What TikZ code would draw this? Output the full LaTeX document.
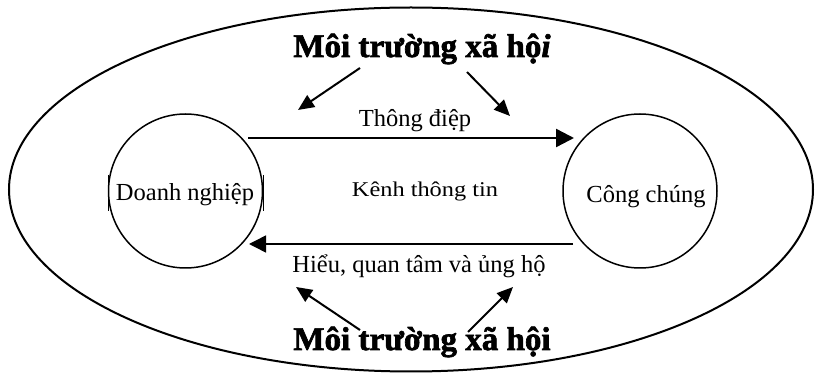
\documentclass[tikz,border=0pt]{standalone}
\usepackage{fontspec}
\setmainfont{Liberation Serif}
\newfontfamily\kenhfont[FakeStretch=1.16]{Liberation Serif}
\newfontfamily\titlefont[FakeBold=2]{Liberation Serif}
\usetikzlibrary{arrows.meta}
\tikzset{
  lbl/.style={font=\fontsize{24.5}{26}\selectfont, inner sep=0pt, anchor=base},
  title/.style={font=\titlefont\fontsize{33}{35}\selectfont\bfseries, inner sep=0pt, anchor=base},
  party/.style={circle, draw, line width=1.5pt, minimum size=154pt, inner sep=0pt},
  bigarrow/.style={line width=2.4pt, -{Triangle[length=18pt,width=18pt]}},
  thinarrow/.style={line width=1.5pt, -{Triangle[length=17pt,width=17pt]}},
  diagarrow/.style={line width=2pt, -{Triangle[length=16pt,width=14pt]}},
}
\begin{document}
\begin{tikzpicture}[x=1pt,y=-1pt]
\useasboundingbox (0,0) rectangle (815,374);
% outer ellipse
\draw[line width=2pt] (411,189.5) ellipse [x radius=402, y radius=182];
% circles
\node[party] (L) at (185.5,191) {};
\node[party] (R) at (640,191) {};
% texts
\node[lbl] (dn) at (185,201) {Doanh nghiệp};
\node[lbl] (cc) at (646,203) {Công chúng};
\node[font=\kenhfont\fontsize{21}{23}\selectfont, inner sep=0pt, anchor=base] (kt) at (425,197) {Kênh thông tin};
\node[lbl] (td) at (415,127) {Thông điệp};
\node[lbl] (hq) at (419,273) {Hiểu, quan tâm và ủng hộ};
\node[title] (t1) at (422,57) {Môi trường xã hộ\textit{i}};
\node[title] (t2) at (422,350) {Môi trường xã hội};
% side bars of the text frame
\draw[line width=1pt] (108,175) -- (108,211);
\draw[line width=1pt] (263,175) -- (263,211);
% coordinates
\coordinate (a1s) at (248,138);
\coordinate (a1e) at (574,138);
\coordinate (a2s) at (573,244);
\coordinate (a2e) at (249,244);
\coordinate (tl) at (298,110);
\coordinate (tr) at (510,116);
\coordinate (bl) at (296,287);
\coordinate (br) at (513,287);
% arrows
\draw[bigarrow] (a1s) -- (a1e);
\draw[thinarrow] (a2s) -- (a2e);
\draw[diagarrow] ([xshift=-62pt,yshift=-11pt]t1.base) -- (tl);
\draw[diagarrow] ([xshift=45pt,yshift=-15pt]t1.base) -- (tr);
\draw[diagarrow] ([xshift=-62pt,yshift=20pt]t2.base) -- (bl);
\draw[diagarrow] ([xshift=46pt,yshift=18pt]t2.base) -- (br);
\end{tikzpicture}
\end{document}
